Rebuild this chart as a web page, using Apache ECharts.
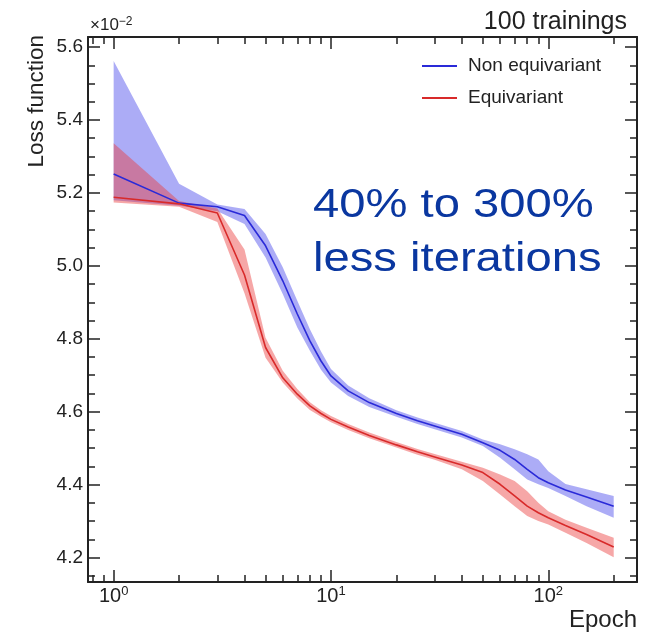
<!DOCTYPE html>
<html>
<head>
<meta charset="utf-8">
<script src="https://cdn.jsdelivr.net/npm/echarts@6/dist/echarts.min.js"></script>
<style>
html,body{margin:0;padding:0;background:#fff;}
#chart{width:661px;height:633px;}
</style>
</head>
<body>
<div id="chart"></div>
<script>
// ---- data (loss values in units of 1e-2) ----
const epochs = [1,2,3,4,5,6,7,8,9,10,12,15,20,25,30,40,50,60,70,80,90,100,120,150,200];

const nonEqMean = [5.252,5.172,5.162,5.138,5.055,4.959,4.868,4.794,4.739,4.698,4.657,4.625,4.595,4.575,4.561,4.538,4.515,4.494,4.469,4.442,4.419,4.405,4.385,4.366,4.341];
const nonEqHigh = [5.562,5.225,5.168,5.156,5.087,4.996,4.904,4.826,4.765,4.717,4.672,4.637,4.604,4.584,4.570,4.547,4.524,4.511,4.497,4.483,4.469,4.437,4.402,4.387,4.369];
const nonEqLow  = [5.180,5.165,5.150,5.115,5.023,4.923,4.831,4.767,4.715,4.680,4.643,4.613,4.586,4.566,4.552,4.529,4.506,4.474,4.442,4.414,4.401,4.391,4.369,4.341,4.309];

const eqMean = [5.188,5.170,5.145,4.975,4.776,4.693,4.648,4.616,4.595,4.579,4.558,4.535,4.509,4.490,4.476,4.454,4.433,4.401,4.369,4.341,4.323,4.309,4.288,4.263,4.229];
const eqHigh = [5.336,5.178,5.157,5.045,4.803,4.712,4.662,4.626,4.604,4.588,4.566,4.543,4.517,4.498,4.484,4.463,4.446,4.428,4.410,4.382,4.350,4.327,4.304,4.282,4.254];
const eqLow  = [5.174,5.162,5.120,4.925,4.748,4.680,4.636,4.605,4.586,4.571,4.550,4.527,4.502,4.482,4.468,4.442,4.410,4.373,4.341,4.314,4.300,4.291,4.268,4.240,4.201];

const seriesNames = ['Non equivariant', 'Equivariant'];

// ---- ticks ----
const xMajorTicks = [1, 10, 100];
const xMinorTicks = [0.8,0.9,2,3,4,5,6,7,8,9,20,30,40,50,60,70,80,90,200];
const yMajorTicks = [4.2,4.4,4.6,4.8,5.0,5.2,5.4,5.6];
const yMinorTicks = [4.15,4.25,4.3,4.35,4.45,4.5,4.55,4.65,4.7,4.75,4.85,4.9,4.95,5.05,5.1,5.15,5.25,5.3,5.35,5.45,5.5,5.55];

const X_MIN = 0.762, X_MAX = 256;
const Y_MIN = 4.133, Y_MAX = 5.6275;

const FONT = 'Liberation Sans, Arial, Helvetica, sans-serif';
const pairs = (xs, ys) => xs.map((x, i) => [x, ys[i]]);

function xAxisDef(pos, ticks, len, showLine, showLabel) {
  return {
    type: 'log', logBase: 10, position: pos, min: X_MIN, max: X_MAX,
    axisLine: { show: showLine, onZero: false, lineStyle: { color: '#222', width: 2 } },
    axisTick: { show: true, inside: true, length: len, customValues: ticks, lineStyle: { color: '#222', width: 1.5 } },
    axisLabel: showLabel ? {
      show: true, customValues: ticks, margin: 3, color: '#222', fontFamily: FONT,
      formatter: v => '{b|10}{s|' + Math.round(Math.log10(v)) + '}',
      rich: {
        b: { fontSize: 20, lineHeight: 22, fontFamily: FONT, color: '#222' },
        s: { fontSize: 13, lineHeight: 13, verticalAlign: 'top', fontFamily: FONT, color: '#222' }
      }
    } : { show: false },
    splitLine: { show: false }, minorTick: { show: false }
  };
}
function yAxisDef(pos, ticks, len, showLine, showLabel) {
  return {
    type: 'value', position: pos, min: Y_MIN, max: Y_MAX,
    axisLine: { show: showLine, onZero: false, lineStyle: { color: '#222', width: 2 } },
    axisTick: { show: true, inside: true, length: len, customValues: ticks, lineStyle: { color: '#222', width: 1.5 } },
    axisLabel: showLabel ? {
      show: true, customValues: ticks, margin: 5, color: '#222', fontSize: 19, fontFamily: FONT,
      formatter: v => v.toFixed(1)
    } : { show: false },
    splitLine: { show: false }, minorTick: { show: false }
  };
}

// band drawn as one polygon through the axes' own coordinate mapping
function band(name, lo, hi, color) {
  return {
    name: name, type: 'custom', silent: true, z: 1, clip: true,
    data: epochs.map((e, i) => [e, lo[i], hi[i]]),
    encode: { x: 0, y: [1, 2] },
    renderItem: (params, api) => {
      if (params.dataIndex !== 0) return null;
      const top = epochs.map((e, i) => api.coord([e, hi[i]]));
      const bot = epochs.map((e, i) => api.coord([e, lo[i]])).reverse();
      return { type: 'polygon', shape: { points: top.concat(bot) }, style: { fill: color } };
    }
  };
}

const chart = echarts.init(document.getElementById('chart'), null, { renderer: 'canvas' });
chart.setOption({
  animation: false,
  backgroundColor: '#fff',
  grid: { left: 88, right: 24, top: 37, bottom: 51, containLabel: false, outerBoundsMode: 'none' },
  xAxis: [
    xAxisDef('bottom', xMajorTicks, 12, true, true),
    xAxisDef('bottom', xMinorTicks, 7, false, false),
    xAxisDef('top', xMajorTicks, 12, true, false),
    xAxisDef('top', xMinorTicks, 7, false, false)
  ],
  yAxis: [
    yAxisDef('left', yMajorTicks, 12, true, true),
    yAxisDef('left', yMinorTicks, 7, false, false),
    yAxisDef('right', yMajorTicks, 12, true, false),
    yAxisDef('right', yMinorTicks, 7, false, false)
  ],
  legend: {
    data: seriesNames, orient: 'vertical', left: 417, top: 51,
    icon: 'rect', itemWidth: 35, itemHeight: 2, itemGap: 12,
    textStyle: { fontSize: 19, lineHeight: 20, fontFamily: FONT, color: '#222', padding: [0, 0, 0, 6] }
  },
  series: [
    band('nonEqBand', nonEqLow, nonEqHigh, 'rgba(70,70,235,0.45)'),
    band('eqBand', eqLow, eqHigh, 'rgba(235,60,60,0.45)'),
    { name: seriesNames[0], type: 'line', data: pairs(epochs, nonEqMean), symbol: 'none', color: '#2a2ad8',
      lineStyle: { color: '#2a2ad8', width: 1.6 }, z: 3 },
    { name: seriesNames[1], type: 'line', data: pairs(epochs, eqMean), symbol: 'none', color: '#d82a2a',
      lineStyle: { color: '#d82a2a', width: 1.6 }, z: 3 }
  ],
  graphic: [
    { type: 'text', x: 313, y: 179, scaleX: 1.18, scaleY: 1, z: 10,
      style: { text: '40% to 300%\nless iterations', fontSize: 40, lineHeight: 54, fontFamily: FONT,
               fill: '#0a37a0', align: 'left', verticalAlign: 'top' } },
    { type: 'text', x: 627, y: 10,
      style: { text: '100 trainings', fontSize: 25, fontFamily: FONT, fill: '#222', align: 'right', verticalAlign: 'top' } },
    { type: 'text', x: 637, y: 608,
      style: { text: 'Epoch', fontSize: 24, fontFamily: FONT, fill: '#222', align: 'right', verticalAlign: 'top' } },
    { type: 'text', x: 37, y: 35, rotation: Math.PI / 2,
      style: { text: 'Loss function', fontSize: 22.5, fontFamily: FONT, fill: '#222', align: 'right', verticalAlign: 'middle' } },
    { type: 'text', x: 90, y: 16,
      style: { text: '{a|×10}{s|−2}', fontFamily: FONT, fill: '#222', align: 'left', verticalAlign: 'top',
               rich: { a: { fontSize: 17, lineHeight: 18, fontFamily: FONT, fill: '#222' },
                       s: { fontSize: 12, lineHeight: 12, verticalAlign: 'top', fontFamily: FONT, fill: '#222' } } } }
  ]
});
</script>
</body>
</html>
